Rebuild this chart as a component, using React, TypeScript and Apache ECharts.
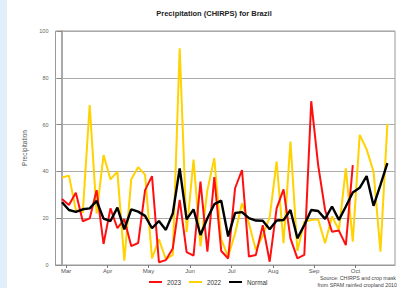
import React, { useEffect, useRef } from "react";
import * as echarts from "echarts";

const monthLabels = ["Mar", "Apr", "May", "Jun", "Jul", "Aug", "Sep", "Oct"];
const monthPos = [0.6, 6.6, 12.5, 18.5, 24.5, 30.5, 36.4, 42.4];

const y2023 = [
  28.2, 25.6, 30.9, 18.7, 19.9, 32, 9, 24.2, 15.7, 19.6, 8.1, 9.4, 32, 38, 1.2, 2.1,
  7.1, 27.8, 5.5, 4, 35.6, 5.7, 37.6, 6, 2.8, 32.8, 40.6, 3.6, 4.3, 17, 1.4, 24.2,
  32.3, 11.4, 2.8, 4.3, 70, 42.7, 23.5, 14.2, 14.7, 8.5, 42.7,
];

const y2022 = [
  37.4, 38.2, 23.5, 22.5, 68.4, 22, 47, 36.6, 39.9, 1.9, 36.6, 41.8, 38.5, 2.8, 11, 2.5,
  4.3, 92.6, 14, 45, 8, 32, 45.6, 11, 3.5, 13.5, 26.4, 17.8, 6.4, 12.5, 20.5, 44.2,
  9.3, 52.7, 6, 18.5, 19.2, 19.5, 9.3, 20.7, 15, 41.3, 10, 55.6, 49.4, 39.9, 5.7, 60.3,
];

const normal = [
  26.8, 23.5, 22.7, 23.8, 24.2, 27.4, 19.8, 18.8, 24.5, 15.2, 23.8, 22.8, 21, 15.7, 18.8, 15,
  22, 41.3, 19.5, 23.8, 12.8, 20, 26, 27.5, 12.2, 22.2, 22.6, 20, 19, 18.9, 15.3, 19,
  19.2, 23.5, 11.4, 17.1, 23.5, 23.1, 19.7, 25, 19.3, 25, 31, 33, 38, 25.3, 34.2, 43.5,
];

const FONT = "'Liberation Sans', Arial, sans-serif";

export default function App() {
  const ref = useRef<HTMLDivElement>(null);
  useEffect(() => {
    if (!ref.current) return;
    const chart = echarts.init(ref.current, undefined, { renderer: "svg" });
    const toPts = (a: number[]) => a.map((v, i) => [i, v]);
    chart.setOption({
      animation: false,
      backgroundColor: "#fff",
      title: {
        text: "Precipitation (CHIRPS) for Brazil",
        left: 209,
        top: 4,
        textAlign: "center",
        textStyle: { fontFamily: FONT, fontSize: 7.5, fontWeight: "bold", color: "#222" },
      },
      grid: {
        left: 55.5,
        right: 10,
        top: 31,
        bottom: 23,
        show: true,
        borderColor: "#999",
        borderWidth: 1,
      },
      legend: {
        data: ["2023", "2022", "Normal"],
        left: 149,
        top: 279,
        padding: 0,
        icon: "rect",
        itemWidth: 13,
        itemHeight: 2,
        itemGap: 8,
        textStyle: { fontFamily: FONT, fontSize: 6.3, color: "#333" },
      },
      xAxis: {
        type: "value",
        min: -0.94,
        max: 48.1,
        splitLine: { show: false },
        axisLine: { lineStyle: { color: "#999", width: 1 } },
        axisTick: { show: true, length: 3, customValues: monthPos, lineStyle: { color: "#777" } },
        axisLabel: {
          customValues: monthPos,
          formatter: (v: number) => {
            const i = monthPos.findIndex((p) => Math.abs(p - v) < 0.01);
            return i >= 0 ? monthLabels[i] : "";
          },
          fontFamily: FONT,
          fontSize: 6,
          color: "#555",
          margin: 3,
        },
      },
      yAxis: {
        type: "value",
        min: 0,
        max: 100,
        interval: 20,
        name: "Precipitation",
        nameLocation: "middle",
        nameGap: 27,
        nameTextStyle: { fontFamily: FONT, fontSize: 6.5, color: "#555" },
        axisLine: { show: true, lineStyle: { color: "#aaa", width: 2 } },
        axisTick: { show: true, length: 5, lineStyle: { color: "#888" } },
        axisLabel: { fontFamily: FONT, fontSize: 5.5, color: "#666", margin: 7 },
        splitLine: { lineStyle: { color: "#aaa", width: 1 } },
      },
      graphic: [
        { type: "rect", shape: { x: 0, y: 0, width: 7, height: 288 }, style: { fill: "#dff0fa" }, z: 100 },
        {
          type: "text",
          x: 396,
          y: 275,
          style: { text: "Source: CHIRPS and crop mask", fontFamily: FONT, fontSize: 5.3, fill: "#444", textAlign: "right" },
        },
        {
          type: "text",
          x: 397,
          y: 282,
          style: { text: "from SPAM rainfed cropland 2010", fontFamily: FONT, fontSize: 5.3, fill: "#444", textAlign: "right" },
        },
      ],
      series: [
        {
          name: "2022",
          type: "line",
          data: toPts(y2022),
          showSymbol: false,
          symbol: "none",
          lineStyle: { color: "#ffd200", width: 2 },
          itemStyle: { color: "#ffd200" },
        },
        {
          name: "2023",
          type: "line",
          data: toPts(y2023),
          showSymbol: false,
          symbol: "none",
          lineStyle: { color: "#ff1010", width: 2 },
          itemStyle: { color: "#ff1010" },
        },
        {
          name: "Normal",
          type: "line",
          data: toPts(normal),
          showSymbol: false,
          symbol: "none",
          lineStyle: { color: "#000", width: 2.4 },
          itemStyle: { color: "#000" },
        },
      ],
    });
    return () => chart.dispose();
  }, []);
  return (
    <div
      ref={ref}
      style={{ position: "fixed", left: 0, top: 0, width: 405, height: 288 }}
    />
  );
}
